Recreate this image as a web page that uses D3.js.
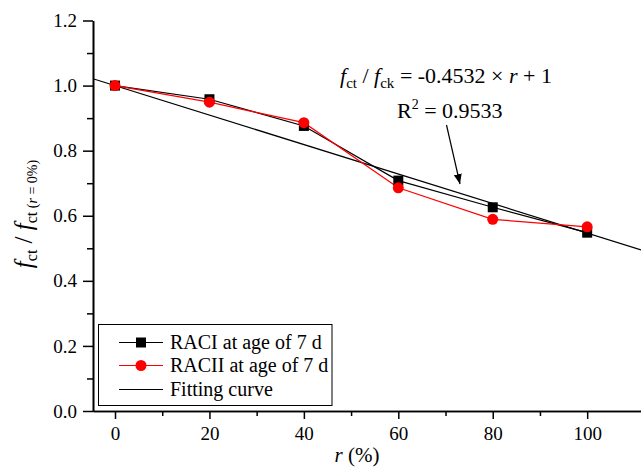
<!DOCTYPE html>
<html><head><meta charset="utf-8">
<script src="https://cdn.jsdelivr.net/npm/d3@7"></script>
<style>body{margin:0;background:#fff}svg{display:block}
svg text{font-family:"Liberation Serif","Times New Roman",Times,serif !important;fill:#000}</style>
</head><body><svg id="c" width="641" height="467"></svg>
<script>
const rValues = [0, 20, 40, 60, 80, 100];
const raci = [1.0, 0.958, 0.876, 0.708, 0.626, 0.548];
const racii = [1.0, 0.949, 0.886, 0.686, 0.589, 0.566];
const fitSlope = -0.4532, fitIntercept = 1;
const xTicks = [0, 20, 40, 60, 80, 100];
const xMinor = [10, 30, 50, 70, 90];
const yTicks = [0.0, 0.2, 0.4, 0.6, 0.8, 1.0, 1.2];
const yMinor = [0.1, 0.3, 0.5, 0.7, 0.9, 1.1];
const legendLabels = ["RACI at age of 7 d", "RACII at age of 7 d", "Fitting curve"];

const svg = d3.select("#c");
const x = d3.scaleLinear().domain([-4.66, 111.4]).range([93, 641]);
const y = d3.scaleLinear().domain([0, 1.2]).range([411, 20.5]);

svg.append("g").attr("transform", "translate(0,411)")
  .call(d3.axisBottom(x).tickValues(xTicks).tickSize(8).tickSizeOuter(0).tickPadding(8).tickFormat(d3.format("d")));
svg.append("g").attr("transform", "translate(0,411)")
  .call(d3.axisBottom(x).tickValues(xMinor).tickSize(5).tickSizeOuter(0).tickFormat(""));
svg.append("g").attr("transform", "translate(93,0)")
  .call(d3.axisLeft(y).tickValues(yTicks).tickSize(10).tickSizeOuter(0).tickPadding(6).tickFormat(d3.format(".1f")));
svg.append("g").attr("transform", "translate(93,0)")
  .call(d3.axisLeft(y).tickValues(yMinor).tickSize(6).tickSizeOuter(0).tickFormat(""));
svg.selectAll("g").attr("font-family", null);
svg.selectAll(".domain").attr("stroke", "#000").attr("stroke-width", 1.6);
svg.selectAll(".tick line").attr("stroke", "#000").attr("stroke-width", 1.5);
svg.selectAll(".tick text").style("font-size", "19px");

svg.append("line")
  .attr("x1", x(-4.66)).attr("y1", y(fitIntercept + fitSlope * -4.66 / 100))
  .attr("x2", x(111.4)).attr("y2", y(fitIntercept + fitSlope * 111.4 / 100))
  .attr("stroke", "#000").attr("stroke-width", 1.2);

const line = d3.line().x((d, i) => x(rValues[i])).y(d => y(d));
svg.append("path").datum(raci).attr("d", line).attr("fill", "none").attr("stroke", "#000").attr("stroke-width", 1.2);
svg.append("path").datum(racii).attr("d", line).attr("fill", "none").attr("stroke", "#f00").attr("stroke-width", 1.2);

svg.selectAll(".sq").data(raci).enter().append("rect")
  .attr("x", (d, i) => x(rValues[i]) - 5).attr("y", d => y(d) - 5)
  .attr("width", 10).attr("height", 10).attr("fill", "#000");
svg.selectAll(".ci").data(racii).enter().append("circle")
  .attr("cx", (d, i) => x(rValues[i])).attr("cy", d => y(d)).attr("r", 5.5).attr("fill", "#f00");

const eq = svg.append("text").attr("x", 340).attr("y", 83).style("font-size", "22px");
eq.append("tspan").style("font-style", "italic").text("f");
eq.append("tspan").attr("dy", 5).style("font-size", "15px").text("ct");
eq.append("tspan").attr("dy", -5).text(" / ");
eq.append("tspan").style("font-style", "italic").text("f");
eq.append("tspan").attr("dy", 5).style("font-size", "15px").text("ck");
eq.append("tspan").attr("dy", -5).text(" = -0.4532 × ");
eq.append("tspan").style("font-style", "italic").text("r");
eq.append("tspan").text(" + 1");

const r2 = svg.append("text").attr("x", 397).attr("y", 118).style("font-size", "22px");
r2.append("tspan").text("R");
r2.append("tspan").attr("dy", -9).style("font-size", "14px").text("2");
r2.append("tspan").attr("dy", 9).text(" = 0.9533");

svg.append("defs").append("marker").attr("id", "ah").attr("viewBox", "0 0 10 10")
  .attr("refX", 10).attr("refY", 5).attr("markerWidth", 10).attr("markerHeight", 10)
  .attr("markerUnits", "userSpaceOnUse").attr("orient", "auto")
  .append("path").attr("d", "M0,1 L10,5 L0,9 Z").attr("fill", "#000");
svg.append("line").attr("x1", 446.5).attr("y1", 125).attr("x2", 460).attr("y2", 184)
  .attr("stroke", "#000").attr("stroke-width", 1.2).attr("marker-end", "url(#ah)");

svg.append("rect").attr("x", 98.5).attr("y", 324.5).attr("width", 233.5).attr("height", 81)
  .attr("fill", "#fff").attr("stroke", "#000").attr("stroke-width", 1);
const ly = [342.5, 365.5, 389.5];
const lc = ["#000", "#f00", "#000"];
legendLabels.forEach((lab, i) => {
  svg.append("line").attr("x1", 119).attr("x2", 163).attr("y1", ly[i]).attr("y2", ly[i])
    .attr("stroke", lc[i]).attr("stroke-width", 1.2);
  if (i === 0) svg.append("rect").attr("x", 136).attr("y", ly[i] - 5).attr("width", 10).attr("height", 10).attr("fill", "#000");
  if (i === 1) svg.append("circle").attr("cx", 141).attr("cy", ly[i]).attr("r", 5.5).attr("fill", "#f00");
  svg.append("text").attr("x", 170).attr("y", ly[i] + 6).style("font-size", "20px").text(lab);
});

const xt = svg.append("text").attr("x", 357).attr("y", 462).attr("text-anchor", "middle").style("font-size", "21px");
xt.append("tspan").style("font-style", "italic").text("r");
xt.append("tspan").text(" (%)");

const yt = svg.append("text").attr("transform", "translate(32,214) rotate(-90)")
  .attr("text-anchor", "middle").style("font-size", "25px");
yt.append("tspan").style("font-style", "italic").text("f");
yt.append("tspan").attr("dy", 5).style("font-size", "16px").text("ct");
yt.append("tspan").attr("dy", -5).text(" / ");
yt.append("tspan").style("font-style", "italic").text("f");
yt.append("tspan").attr("dy", 5).style("font-size", "16px").text("ct");
yt.append("tspan").style("font-size", "14px").text(" (");
yt.append("tspan").style("font-size", "14px").style("font-style", "italic").text("r");
yt.append("tspan").style("font-size", "14px").text(" = 0%)");
</script></body></html>
